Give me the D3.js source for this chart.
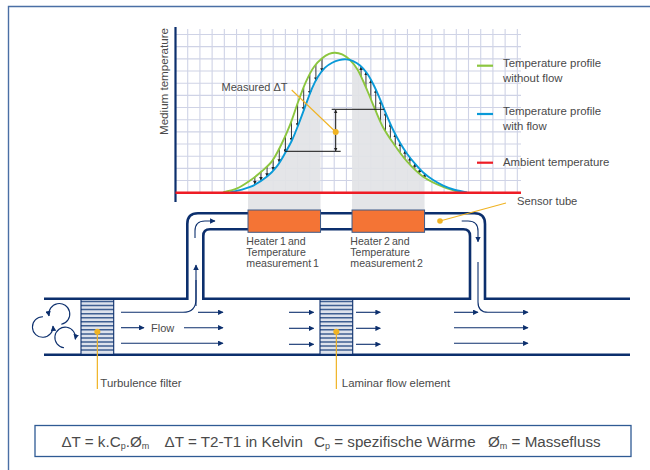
<!DOCTYPE html>
<html>
<head>
<meta charset="utf-8">
<script src="https://cdn.jsdelivr.net/npm/d3@7"></script>
<style>
  html, body { margin: 0; padding: 0; background: #fff; }
  text { font-family: "Liberation Sans", Arial, sans-serif; fill: #4a4a4a; }
</style>
</head>
<body>
<div id="chart"></div>
<script>
// profiles in grid cells
const withoutFlowX = [3.89, 5.04, 6.11, 7.09, 7.91, 8.65, 9.39, 10.04, 10.70, 11.35, 12.01, 12.58, 13.07, 13.65, 14.30, 14.88, 15.37, 15.86, 16.35, 17.01, 17.83, 18.98, 20.29, 21.93, 23.32];
const withoutFlowT = [0.03, 0.35, 1.0, 1.78, 2.6, 3.92, 5.6, 7.45, 9.15, 10.35, 11.05, 11.4, 11.5, 11.36, 10.9, 10.16, 9.18, 8.03, 6.84, 5.36, 4.08, 2.55, 1.31, 0.47, 0.03];
const withFlowX = [4.47, 6.11, 7.5, 8.32, 8.98, 9.55, 10.12, 10.70, 11.19, 11.68, 12.25, 12.83, 13.4, 13.98, 14.55, 15.12, 15.7, 16.19, 16.68, 17.17, 17.83, 18.4, 18.98, 19.63, 20.29, 21.11, 21.93, 22.91, 23.89];
const withFlowT = [0.03, 0.47, 1.33, 2.19, 3.26, 4.33, 5.73, 7.3, 8.6, 9.55, 10.28, 10.68, 10.9, 10.96, 10.82, 10.45, 9.79, 8.93, 7.86, 6.67, 5.15, 4.08, 3.18, 2.36, 1.66, 1.04, 0.59, 0.22, 0.03];
const coolingArrowX = [6.5, 7, 7.5, 8, 8.5, 9, 9.5, 10, 10.5, 11, 11.5, 12];
const heatingArrowX = [15.2, 15.6, 16, 16.4, 16.8, 17.2, 17.6, 18, 18.4, 18.8, 19.2, 19.6, 20, 20.4];
const heaterStart = [5.94, 14.46];
const heaterEnd = [11.88, 20.4];
const heaterLabels = [
  ["Heater 1 and", "Temperature", "measurement 1"],
  ["Heater 2 and", "Temperature", "measurement 2"]
];
const legendLabels = [
  ["Temperature profile", "without flow"],
  ["Temperature profile", "with flow"],
  ["Ambient temperature"]
];
const legendColors = ["#8cc63f", "#0a9ad8", "#ee1c25"];
const filterLabels = ["Turbulence filter", "Laminar flow element"];

const navy = "#0c2f6d";
const gold = "#f0b323";

const svg = d3.select("#chart").append("svg")
  .attr("width", 650)
  .attr("height", 470)
  .style("display", "block");

const x = d3.scaleLinear().domain([0, 28.3]).range([175.5, 521]);
const y = d3.scaleLinear().domain([0, 13]).range([192.7, 34.5]);

const defs = svg.append("defs");
function arrowHead(id, size, color) {
  defs.append("marker")
    .attr("id", id)
    .attr("viewBox", "0 0 10 10")
    .attr("refX", 9).attr("refY", 5)
    .attr("markerWidth", size).attr("markerHeight", size)
    .attr("markerUnits", "userSpaceOnUse")
    .attr("orient", "auto-start-reverse")
    .append("path")
    .attr("d", "M0,0L10,5L0,10Z")
    .attr("fill", color);
}
arrowHead("head", 5.5, navy);
arrowHead("tiny", 3.6, "#222");

// outer frame, only top and left are inside the picture
svg.append("path")
  .attr("d", "M650,6.5H8.5V470")
  .attr("fill", "none")
  .attr("stroke", "#4a6fa5")
  .attr("stroke-width", 1.4);

// grid
const gridG = svg.append("g").attr("stroke", "#cfd3e6").attr("stroke-width", 1.1);
gridG.selectAll("line.v")
  .data(d3.range(1, 29))
  .join("line")
  .attr("class", "v")
  .attr("x1", d => x(d)).attr("x2", d => x(d))
  .attr("y1", 29).attr("y2", y(0));
gridG.selectAll("line.h")
  .data(d3.range(1, 14))
  .join("line")
  .attr("class", "h")
  .attr("x1", x(0)).attr("x2", x(28.3))
  .attr("y1", d => y(d)).attr("y2", d => y(d));

const withoutFlow = withoutFlowX.map((d, i) => [d, withoutFlowT[i]]);
const withFlow = withFlowX.map((d, i) => [d, withFlowT[i]]);

const line = d3.line().x(d => x(d[0])).y(d => y(d[1])).curve(d3.curveCatmullRom.alpha(0.5));
const area = d3.area().x(d => x(d[0])).y0(210).y1(d => y(d[1])).curve(d3.curveCatmullRom.alpha(0.5));

// grey bands from each heater up to the profile
[withFlow, withoutFlow].forEach((profile, i) => {
  defs.append("clipPath").attr("id", "band" + i)
    .append("rect")
    .attr("x", x(heaterStart[i]))
    .attr("y", 20)
    .attr("width", x(heaterEnd[i]) - x(heaterStart[i]))
    .attr("height", 190);
  svg.append("path")
    .attr("d", area(profile))
    .attr("clip-path", `url(#band${i})`)
    .attr("fill", "#e2e3e6")
    .attr("opacity", 0.92);
});

// read a profile at any x, to hang the small arrows between the two curves
function at(xs, ts, v) {
  const i = Math.min(Math.max(d3.bisectLeft(xs, v), 1), xs.length - 1);
  const k = (v - xs[i - 1]) / (xs[i] - xs[i - 1]);
  return ts[i - 1] + k * (ts[i] - ts[i - 1]);
}
const smallArrows = svg.append("g").attr("stroke", "#222").attr("stroke-width", 0.9);
coolingArrowX.concat(heatingArrowX).forEach(v => {
  smallArrows.append("line")
    .attr("x1", x(v)).attr("x2", x(v))
    .attr("y1", y(at(withoutFlowX, withoutFlowT, v)))
    .attr("y2", y(at(withFlowX, withFlowT, v)))
    .attr("marker-end", "url(#tiny)");
});

// curves
svg.append("path").attr("d", line(withoutFlow))
  .attr("fill", "none").attr("stroke", legendColors[0]).attr("stroke-width", 1.9);
svg.append("path").attr("d", line(withFlow))
  .attr("fill", "none").attr("stroke", legendColors[1]).attr("stroke-width", 1.9);

// axes
svg.append("line")
  .attr("x1", x(0)).attr("x2", x(0)).attr("y1", 27).attr("y2", 202)
  .attr("stroke", navy).attr("stroke-width", 2.2);
svg.append("line")
  .attr("x1", x(0)).attr("x2", x(28.3)).attr("y1", y(0)).attr("y2", y(0))
  .attr("stroke", legendColors[2]).attr("stroke-width", 2.6);
svg.append("text")
  .attr("transform", "translate(168,135) rotate(-90)")
  .attr("font-size", 11.6)
  .text("Medium temperature");

// measured delta T bracket
const bracket = svg.append("g").attr("stroke", "#111").attr("stroke-width", 1);
bracket.append("line").attr("x1", 285).attr("x2", 340.7).attr("y1", 151.3).attr("y2", 151.3);
bracket.append("line").attr("x1", 331.7).attr("x2", 384.3).attr("y1", 109.3).attr("y2", 109.3);
bracket.append("line").attr("x1", 335.7).attr("x2", 335.7).attr("y1", 110).attr("y2", 151)
  .attr("marker-start", "url(#tiny)").attr("marker-end", "url(#tiny)");
svg.append("line")
  .attr("x1", 291.7).attr("y1", 90).attr("x2", 335.7).attr("y2", 132)
  .attr("stroke", gold).attr("stroke-width", 1.1);
svg.append("circle").attr("cx", 335.7).attr("cy", 132).attr("r", 3).attr("fill", gold);
svg.append("text").attr("x", 221.5).attr("y", 90.5).attr("font-size", 11).text("Measured ΔT");

// legend
const legendY = [65.7, 114, 162.7];
const legendText = [[67, 81.7], [115, 129.7], [165.7]];
legendLabels.forEach((rows, i) => {
  svg.append("line")
    .attr("x1", 477).attr("x2", 493)
    .attr("y1", legendY[i]).attr("y2", legendY[i])
    .attr("stroke", legendColors[i]).attr("stroke-width", 2.2);
  rows.forEach((row, j) => {
    svg.append("text").attr("x", 503).attr("y", legendText[i][j]).attr("font-size", 11.4).text(row);
  });
});

// sensor tube
const pipe = svg.append("g").attr("fill", "none").attr("stroke", navy).attr("stroke-width", 2.6);
pipe.append("path").attr("d", "M44,298.8H187.3V224Q187.3,213.3 198,213.3H474.3Q485,213.3 485,224V298.8H630");
pipe.append("path").attr("d", "M203.3,298.8V236Q203.3,229.3 210,229.3H463.3Q470,229.3 470,236V298.8Z");
pipe.append("path").attr("d", "M44,354.7H630");

// heaters
heaterStart.forEach((d, i) => {
  svg.append("rect")
    .attr("x", x(d)).attr("y", 210)
    .attr("width", x(heaterEnd[i]) - x(d)).attr("height", 22.3)
    .attr("fill", "#f47435")
    .attr("stroke", "#3e5a88").attr("stroke-width", 1);
  heaterLabels[i].forEach((row, j) => {
    svg.append("text")
      .attr("x", x(d) - 1.7).attr("y", 245.3 + j * 11)
      .attr("font-size", 10.6)
      .attr("word-spacing", -1)
      .text(row);
  });
});

// filters
[81, 320].forEach((fx, i) => {
  const w = 32.7;
  svg.append("rect").attr("x", fx).attr("y", 300).attr("width", w).attr("height", 53.5).attr("fill", "#dde2ec");
  svg.selectAll(null)
    .data(d3.range(301.5, 353, 4.05))
    .join("line")
    .attr("x1", fx).attr("x2", fx + w)
    .attr("y1", d => d).attr("y2", d => d)
    .attr("stroke", "#3f5f92").attr("stroke-width", 1.5);
  svg.selectAll(null)
    .data([fx, fx + w])
    .join("line")
    .attr("x1", d => d).attr("x2", d => d)
    .attr("y1", 299).attr("y2", 354)
    .attr("stroke", navy).attr("stroke-width", 1.1);
  const dx = fx + w / 2;
  svg.append("line").attr("x1", dx).attr("x2", dx).attr("y1", 331.7).attr("y2", 389)
    .attr("stroke", gold).attr("stroke-width", 1.2);
  svg.append("circle").attr("cx", dx).attr("cy", 331.7).attr("r", 3).attr("fill", gold);
  svg.append("text").attr("x", dx + [3, 5.5][i]).attr("y", 387).attr("font-size", 11.4).text(filterLabels[i]);
});

// flow arrows
const flowPaths = [
  "M121,312.3H183Q196,312.3 196,299V280",
  "M198,312.3H223", "M121,327.7H144", "M184,327.7H223", "M121,343.3H223",
  "M289,312.3H313.7", "M289,328.3H313.7", "M289,344.3H313.7",
  "M356,312.3H380.3", "M356,328.3H380.3", "M356,344.3H380.3",
  "M454,312.3H478", "M454,327.7H528", "M454,343.3H528",
  "M478,262V302Q478,312.3 488,312.3H528",
  "M196,306V265",
  "M195,238V231Q195,221 205,221H215",
  "M461.7,221H468Q478,221 478,231V241.7"
];
svg.append("g").attr("fill", "none").attr("stroke", navy).attr("stroke-width", 1.1)
  .selectAll("path")
  .data(flowPaths)
  .join("path")
  .attr("d", d => d)
  .attr("marker-end", (d, i) => (i === 0 ? null : "url(#head)"));

// swirls at the inlet
const swirls = [
  "M61.3,324.3A10.5,10.5 0 1 0 49,316",
  "M43,316.7A10.3,10.3 0 1 0 53,326",
  "M64,347.7A10.3,10.3 0 1 1 75.3,339.3"
];
svg.append("g").attr("fill", "none").attr("stroke", navy).attr("stroke-width", 1.1)
  .selectAll("path")
  .data(swirls)
  .join("path")
  .attr("d", d => d)
  .attr("marker-end", "url(#head)");

svg.append("text").attr("x", 151).attr("y", 331.5).attr("font-size", 11).text("Flow");

// sensor tube callout
svg.append("line").attr("x1", 440).attr("y1", 221).attr("x2", 506).attr("y2", 203)
  .attr("stroke", gold).attr("stroke-width", 1.1);
svg.append("circle").attr("cx", 440).attr("cy", 221).attr("r", 2.8).attr("fill", gold);
svg.append("text").attr("x", 517).attr("y", 205).attr("font-size", 11.2).text("Sensor tube");

// formula box, a run flagged with 1 is a subscript
svg.append("rect")
  .attr("x", 35).attr("y", 425.5).attr("width", 596).attr("height", 31)
  .attr("fill", "#fff").attr("stroke", "#2f5a94").attr("stroke-width", 1.3);
const formulaParts = [
  [61.4, [["ΔT = k.C"], ["p", 1], [".Ø"], ["m", 1]]],
  [164.6, [["ΔT = T2-T1 in Kelvin"]]],
  [314, [["C"], ["p", 1], [" = spezifische Wärme"]]],
  [488, [["Ø"], ["m", 1], [" = Massefluss"]]]
];
formulaParts.forEach(([fx, runs]) => {
  const t = svg.append("text").attr("x", fx).attr("y", 446.5).attr("font-size", 15.2).attr("xml:space", "preserve");
  let shift = 0;
  runs.forEach(([s, isSub]) => {
    const target = isSub ? 2.5 : 0;
    t.append("tspan")
      .attr("font-size", isSub ? 9 : 15.2)
      .attr("dy", target - shift)
      .text(s);
    shift = target;
  });
});
</script>
</body>
</html>
